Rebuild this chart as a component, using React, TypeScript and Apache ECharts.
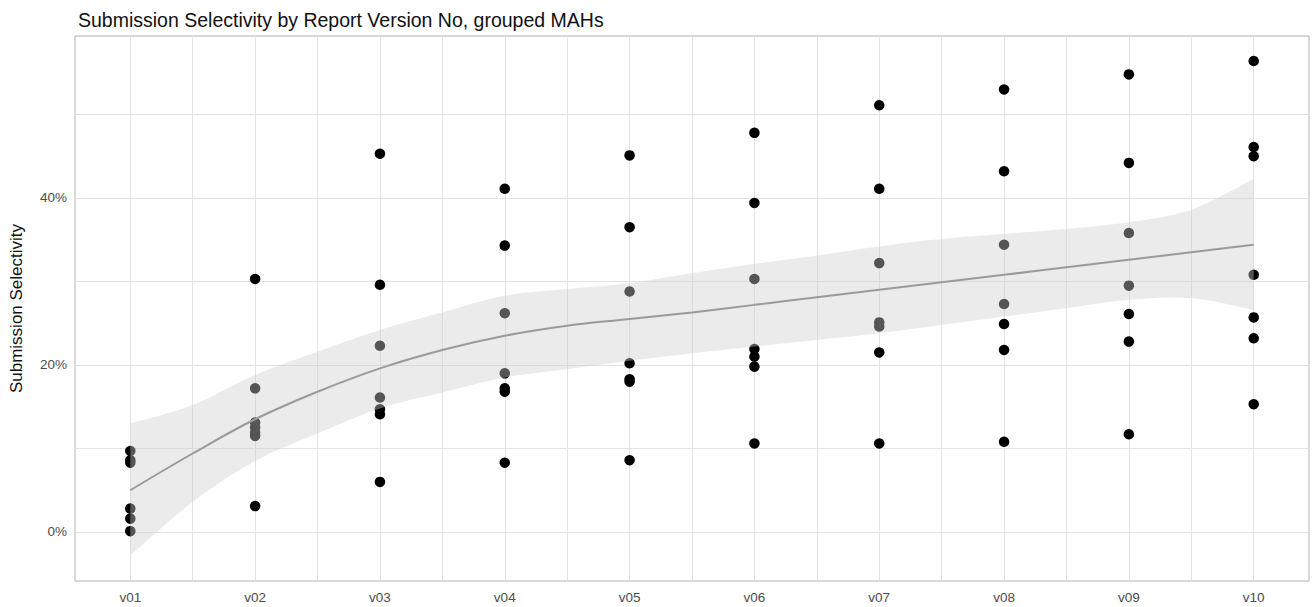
import React, { useEffect, useRef } from "react";
import * as echarts from "echarts";

const categories = ["v01", "v02", "v03", "v04", "v05", "v06", "v07", "v08", "v09", "v10"];

// Submission selectivity (%) per MAH group, for each report version
const v01 = [9.7, 8.6, 8.3, 2.8, 1.6, 0.1];
const v02 = [30.3, 17.2, 13.1, 12.5, 11.9, 11.5, 3.1];
const v03 = [45.3, 29.6, 22.3, 16.1, 14.7, 14.1, 6.0];
const v04 = [41.1, 34.3, 26.2, 19.0, 17.2, 16.8, 8.3];
const v05 = [45.1, 36.5, 28.8, 20.2, 18.3, 18.0, 8.6];
const v06 = [47.8, 39.4, 30.3, 21.9, 21.0, 19.8, 10.6];
const v07 = [51.1, 41.1, 32.2, 25.1, 24.6, 21.5, 10.6];
const v08 = [53.0, 43.2, 34.4, 27.3, 24.9, 21.8, 10.8];
const v09 = [54.8, 44.2, 35.8, 29.5, 26.1, 22.8, 11.7];
const v10 = [56.4, 46.1, 45.0, 30.8, 25.7, 23.2, 15.3];
const pointsByVersion = [v01, v02, v03, v04, v05, v06, v07, v08, v09, v10];

// Loess smooth (fit and confidence band), read at positions along the version axis
const smoothX = [1, 1.5, 2, 2.5, 3, 3.5, 4, 4.5, 5, 5.5, 6, 6.5, 7, 7.5, 8, 8.5, 9, 9.5, 10];
const smoothFit = [5.0, 9.4, 13.5, 16.8, 19.6, 21.8, 23.5, 24.7, 25.5, 26.3, 27.2, 28.1, 29.0, 29.9, 30.8, 31.7, 32.6, 33.5, 34.4];
const smoothHigh = [13.0, 15.2, 18.8, 21.6, 24.2, 26.3, 28.3, 29.1, 29.8, 31.0, 32.1, 33.1, 34.2, 35.1, 35.7, 36.3, 37.1, 38.6, 42.3];
const smoothLow = [-2.8, 3.6, 8.5, 11.8, 14.8, 16.7, 18.5, 19.5, 20.5, 21.4, 22.2, 23.0, 23.8, 24.8, 25.8, 26.8, 27.8, 28.0, 26.6];

const yLabelValues = [0, 20, 40];

const FONT = "'Liberation Sans', Arial, Helvetica, sans-serif";

// Catmull-Rom sampling between pixel points (for a smooth outline)
function splinePixels(pts: number[][], steps: number): number[][] {
  const out: number[][] = [];
  for (let i = 0; i < pts.length - 1; i++) {
    const p0 = pts[Math.max(0, i - 1)];
    const p1 = pts[i];
    const p2 = pts[i + 1];
    const p3 = pts[Math.min(pts.length - 1, i + 2)];
    for (let s = 0; s < steps; s++) {
      const t = s / steps;
      const t2 = t * t;
      const t3 = t2 * t;
      const f = (a: number, b: number, c: number, d: number) =>
        0.5 * (2 * b + (-a + c) * t + (2 * a - 5 * b + 4 * c - d) * t2 + (-a + 3 * b - 3 * c + d) * t3);
      out.push([f(p0[0], p1[0], p2[0], p3[0]), f(p0[1], p1[1], p2[1], p3[1])]);
    }
  }
  out.push(pts[pts.length - 1]);
  return out;
}

export default function App() {
  const ref = useRef<HTMLDivElement>(null);

  useEffect(() => {
    if (!ref.current) return;
    const chart = echarts.init(ref.current, undefined, { renderer: "svg" });

    const scatterData: number[][] = [];
    pointsByVersion.forEach((vals, i) => {
      vals.forEach((v) => scatterData.push([i + 1, v]));
    });

    const isInt = (v: number) => Math.abs(v - Math.round(v)) < 1e-6;

    chart.setOption({
      animation: false,
      backgroundColor: "#ffffff",
      title: {
        text: "Submission Selectivity by Report Version No, grouped MAHs",
        left: 73,
        top: 5,
        textStyle: { fontFamily: FONT, fontSize: 19.5, fontWeight: "normal", color: "#111111" },
      },
      grid: {
        left: 75,
        right: 3,
        top: 36,
        bottom: 26,
        show: true,
        borderColor: "#b3b3b3",
        borderWidth: 1,
        backgroundColor: "transparent",
      },
      xAxis: {
        type: "value",
        min: 0.557,
        max: 10.443,
        splitNumber: 20,
        axisLine: { show: false },
        axisTick: { show: false },
        axisLabel: {
          margin: 9,
          fontFamily: FONT,
          fontSize: 13.5,
          color: "#4d4d4d",
          showMinLabel: false,
          showMaxLabel: false,
          formatter: (v: number) => (isInt(v) && v >= 1 && v <= 10 ? categories[Math.round(v) - 1] : ""),
        },
        splitLine: { show: true, showMinLine: false, showMaxLine: false, lineStyle: { color: "#e3e3e3", width: 1 } },
      },
      yAxis: {
        type: "value",
        min: -5.87,
        max: 59.4,
        splitNumber: 7,
        name: "Submission Selectivity",
        nameLocation: "middle",
        nameGap: 50,
        nameTextStyle: { fontFamily: FONT, fontSize: 17, color: "#111111" },
        axisLine: { show: false },
        axisTick: { show: false },
        axisLabel: {
          margin: 8,
          fontFamily: FONT,
          fontSize: 13.5,
          color: "#4d4d4d",
          showMinLabel: false,
          showMaxLabel: false,
          formatter: (v: number) => (isInt(v) && yLabelValues.includes(Math.round(v)) ? `${Math.round(v)}%` : ""),
        },
        splitLine: { show: true, showMinLine: false, showMaxLine: false, lineStyle: { color: "#e3e3e3", width: 1 } },
      },
      series: [
        {
          type: "scatter",
          data: scatterData,
          symbol: "circle",
          symbolSize: 10.5,
          itemStyle: { color: "#000000", opacity: 1 },
          z: 2,
        },
        {
          type: "custom",
          data: [[smoothX[0], smoothFit[0]]],
          encode: { x: 0, y: 1 },
          silent: true,
          z: 3,
          renderItem: (params: any, api: any) => {
            const top = smoothX.map((x, i) => api.coord([x, smoothHigh[i]]));
            const bot = smoothX.map((x, i) => api.coord([x, smoothLow[i]]));
            const topS = splinePixels(top, 8);
            const botS = splinePixels(bot, 8).reverse();
            return {
              type: "polygon",
              shape: { points: topS.concat(botS) },
              style: { fill: "#cecece", opacity: 0.41 },
            };
          },
        },
        {
          type: "line",
          data: smoothX.map((x, i) => [x, smoothFit[i]]),
          smooth: 0.4,
          symbol: "none",
          lineStyle: { color: "#9a9a9a", width: 2 },
          z: 4,
          silent: true,
        },
      ],
    });

    return () => chart.dispose();
  }, []);

  return (
    <div
      ref={ref}
      style={{ position: "fixed", left: 0, top: 0, width: 1312, height: 607, background: "#fff" }}
    />
  );
}
